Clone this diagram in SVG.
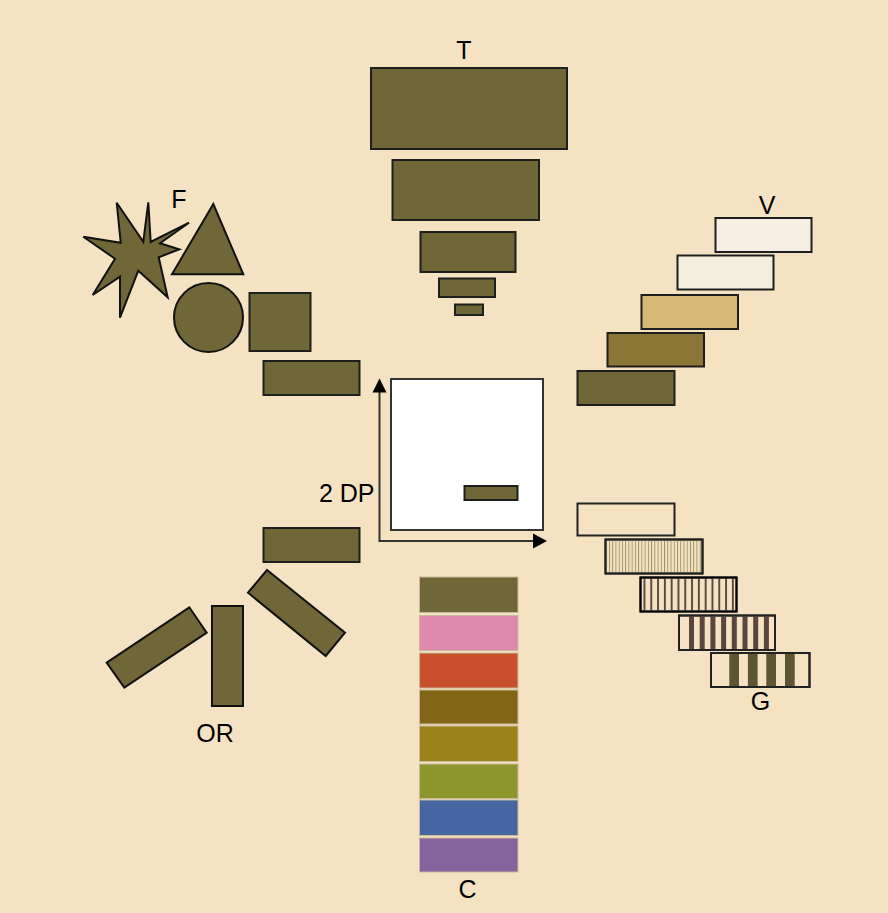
<svg xmlns="http://www.w3.org/2000/svg" width="888" height="913" viewBox="0 0 888 913">
<style>
.bg{fill:#f5e2c3}
.ol{fill:#6f6738;stroke:#1e1e1e;stroke-width:2}
.sh{fill:#6f6738;stroke:#111;stroke-width:2;stroke-linejoin:miter}
.lbl{font-family:"Liberation Sans",Arial,sans-serif;font-size:25px;fill:#000}
.c{stroke:#c9b99c;stroke-width:1}
.g{fill:#f5e2c3;stroke:#222;stroke-width:2}
.axis{stroke:#333;stroke-width:2;fill:none}
</style>
<defs>
<marker id="arr" markerWidth="14" markerHeight="14" refX="1" refY="7" orient="auto" markerUnits="userSpaceOnUse">
<path d="M0,0 L14,7 L0,14 Z" fill="#000"/>
</marker>
<pattern id="p2" patternUnits="userSpaceOnUse" x="609" y="0" width="3.24" height="10">
<rect x="0" y="0" width="0.9" height="10" fill="#9f8e62"/>
</pattern>
<pattern id="p3" patternUnits="userSpaceOnUse" x="643.5" y="0" width="6.8" height="10">
<rect x="0" y="0" width="1.9" height="10" fill="#5a4540"/>
</pattern>
</defs>
<rect class="bg" x="0" y="0" width="888" height="913"/>

<g id="T">
<text class="lbl" x="464" y="59" text-anchor="middle">T</text>
<rect class="ol" x="371" y="68" width="196" height="81"/>
<rect class="ol" x="392.5" y="160" width="146.5" height="60"/>
<rect class="ol" x="420.5" y="232" width="95" height="40"/>
<rect class="ol" x="439" y="278.5" width="56" height="18.5"/>
<rect class="ol" x="455" y="304.5" width="28" height="10.5"/>
</g>

<g id="F">
<text class="lbl" x="179" y="208" text-anchor="middle">F</text>
<polygon class="sh" points="83.3,236.7 120.7,242.7 116.7,202.7 143.3,241.7 148.3,202.3 150.7,242 189,222.7 160,243.3 179.3,249.3 158.7,257.3 167.7,297.3 138.3,270.7 120,317.7 120,276.7 92.7,295 115,258.7"/>
<polygon class="sh" points="213.3,204 172,274.3 243.3,274.3"/>
<circle class="sh" cx="208.5" cy="317.5" r="34.5"/>
<rect class="ol" x="249.5" y="293" width="61" height="58"/>
<rect class="ol" x="263.5" y="361" width="96" height="34"/>
</g>

<g id="V">
<text class="lbl" x="767" y="214" text-anchor="middle">V</text>
<rect class="ol" style="fill:#f7efe4" x="715.5" y="218" width="96" height="34"/>
<rect class="ol" style="fill:#f4eedf" x="677.5" y="255.5" width="96" height="34"/>
<rect class="ol" style="fill:#d6b974" x="641.5" y="295" width="96.5" height="34"/>
<rect class="ol" style="fill:#8a7636" x="607.5" y="333" width="96.5" height="33.5"/>
<rect class="ol" x="577.5" y="371" width="97" height="34"/>
</g>

<g id="DP">
<rect x="391" y="379" width="152" height="151" fill="#fff" stroke="#333" stroke-width="2"/>
<rect class="ol" x="464.5" y="486" width="53" height="14"/>
<text class="lbl" x="374.5" y="501.5" text-anchor="end">2 DP</text>
</g>

<g id="OR">
<rect class="ol" x="263.5" y="528" width="96" height="34"/>
<polygon class="sh" points="106.7,662.7 189.3,607.3 206.7,632.7 124.3,687.7"/>
<rect class="sh" x="212" y="606" width="31" height="100"/>
<polygon class="sh" points="267,570 345,632.7 325.7,656 248,592.7"/>
<text class="lbl" x="215" y="742" text-anchor="middle">OR</text>
</g>

<g id="G">
<rect class="g" x="577.5" y="503.5" width="97" height="32"/>
<rect class="g" x="605.5" y="539.5" width="97" height="34"/>
<rect x="608" y="540.5" width="93" height="32" fill="url(#p2)"/>
<rect x="605.5" y="539.5" width="97" height="34" fill="none" stroke="#222" stroke-width="2"/>
<rect class="g" x="640.5" y="577.5" width="96" height="34"/>
<rect x="642" y="578.5" width="93" height="32" fill="url(#p3)"/>
<rect x="640.5" y="577.5" width="96" height="34" fill="none" stroke="#000" stroke-width="2"/>
<rect class="g" x="679" y="615.5" width="96" height="34.5"/>
<g fill="#5b4540">
<rect x="689" y="616.5" width="5" height="32.5"/>
<rect x="699.7" y="616.5" width="5" height="32.5"/>
<rect x="710.4" y="616.5" width="5" height="32.5"/>
<rect x="721.1" y="616.5" width="5" height="32.5"/>
<rect x="731.8" y="616.5" width="5" height="32.5"/>
<rect x="742.5" y="616.5" width="5" height="32.5"/>
<rect x="753.2" y="616.5" width="5" height="32.5"/>
<rect x="763.9" y="616.5" width="5" height="32.5"/>
</g>
<rect x="679" y="615.5" width="96" height="34.5" fill="none" stroke="#222" stroke-width="2"/>
<rect class="g" x="711" y="653" width="98.5" height="34"/>
<g fill="#5e5535">
<rect x="729.3" y="654" width="9.7" height="32"/>
<rect x="747.9" y="654" width="9.7" height="32"/>
<rect x="766.3" y="654" width="9.7" height="32"/>
<rect x="785" y="654" width="9.7" height="32"/>
</g>
<rect x="711" y="653" width="98.5" height="34" fill="none" stroke="#222" stroke-width="2"/>
<text class="lbl" x="760.5" y="710" text-anchor="middle">G</text>
</g>

<g id="C">
<rect class="c" x="419.5" y="577" width="98.5" height="35.5" fill="#6f6738"/>
<rect class="c" x="419.5" y="615.5" width="98.5" height="35" fill="#df8aad"/>
<rect class="c" x="419.5" y="653" width="98.5" height="35" fill="#c8502c"/>
<rect class="c" x="419.5" y="690" width="98.5" height="34" fill="#816615"/>
<rect class="c" x="419.5" y="726" width="98.5" height="35.5" fill="#9a8419"/>
<rect class="c" x="419.5" y="764" width="98.5" height="34.5" fill="#8d962c"/>
<rect class="c" x="419.5" y="800" width="98.5" height="35.5" fill="#4566a0"/>
<rect class="c" x="419.5" y="838" width="98.5" height="34" fill="#87619c"/>
<text class="lbl" x="467.5" y="898" text-anchor="middle">C</text>
</g>

<g id="connectors">
<path class="axis" d="M379.5,392 L379.5,541 L533,541"/>
<path d="M372.5,392.5 L379.5,378.5 L386.5,392.5 Z" fill="#000"/>
<path d="M533,533.5 L547,541 L533,548.5 Z" fill="#000"/>
</g>
</svg>
